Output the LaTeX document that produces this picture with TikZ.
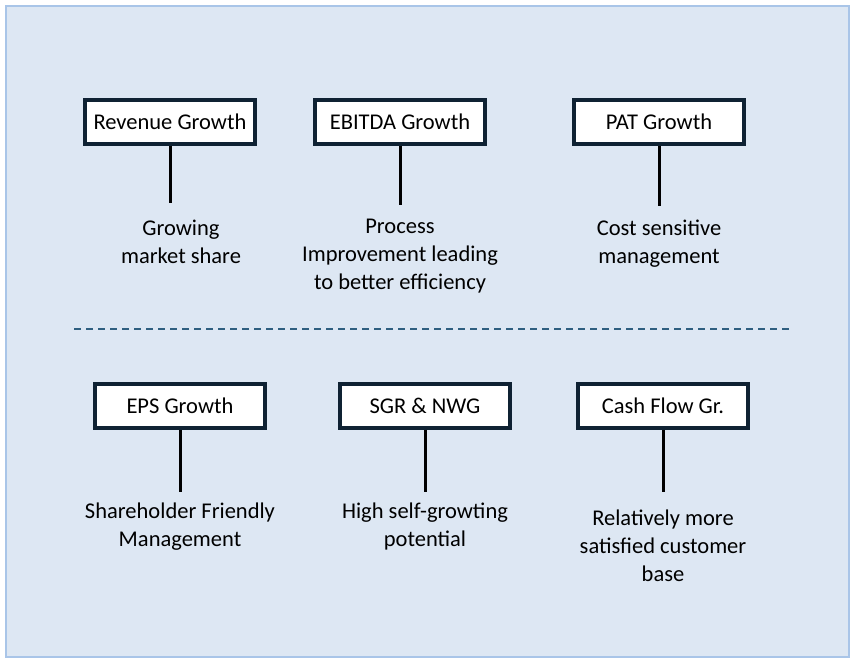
\documentclass[tikz,border=0pt]{standalone}
\usepackage{fontspec}
\setmainfont{Carlito}
\usetikzlibrary{positioning}
\definecolor{panelfill}{HTML}{DDE7F3}
\definecolor{paneledge}{HTML}{A9C5E8}
\definecolor{boxnavy}{HTML}{0F2233}
\definecolor{splitblue}{HTML}{2F5F80}

\begin{document}
\begin{tikzpicture}[
    x=1pt,
    y=-1pt,
    font=\fontsize{22.5}{28}\selectfont,
    metric/.style={
      draw=boxnavy,
      line width=3.5pt,
      fill=white,
      minimum width=170pt,
      minimum height=44pt,
      inner sep=0pt
    },
    reason/.style={
      align=center,
      inner sep=0pt
    },
    stem/.style={
      line width=3pt,
      draw=black
    }
  ]

  % panel
  \useasboundingbox (0,0) rectangle (854,662);
  \draw[fill=panelfill, draw=paneledge, line width=2pt] (6,6) rectangle (849,657);

  % top row
  \node[metric] (rev) at (170,122) {Revenue Growth};
  \node[metric] (ebitda) at (400,122) {EBITDA Growth};
  \node[metric] (pat) at (659,122) {PAT Growth};

  \node[reason] (revtxt) at (181,241.5) {Growing\\market share};
  \node[reason] (ebitdatxt) at (400,256) {Process\\Improvement leading\\to better efficiency};
  \node[reason] (pattxt) at (659,244) {Cost sensitive\\management};

  \coordinate (revend) at (170,203);
  \coordinate (ebitdaend) at (400,205);
  \coordinate (patend) at (659,206);

  \draw[stem] (rev) -- (revend);
  \draw[stem] (ebitda) -- (ebitdaend);
  \draw[stem] (pat) -- (patend);

  % split
  \coordinate (splitl) at (74,329);
  \coordinate (splitr) at (792,329);
  \draw[splitblue, line width=1.3pt, dash pattern=on 7pt off 5pt] (splitl) -- (splitr);

  % bottom row
  \node[metric] (eps) at (180,406) {EPS Growth};
  \node[metric] (sgr) at (425,406) {SGR \& NWG};
  \node[metric] (cash) at (663,406) {Cash Flow Gr.};

  \node[reason] (epstxt) at (180,526.5) {Shareholder Friendly\\Management};
  \node[reason] (sgrtxt) at (425,526.5) {High self-growting\\potential};
  \node[reason] (cashtxt) at (663,546) {Relatively more\\satisfied customer\\base};

  \coordinate (epsend) at (180,492);
  \coordinate (sgrend) at (425,492);
  \coordinate (cashend) at (663,492);

  \draw[stem] (eps) -- (epsend);
  \draw[stem] (sgr) -- (sgrend);
  \draw[stem] (cash) -- (cashend);

\end{tikzpicture}
\end{document}
